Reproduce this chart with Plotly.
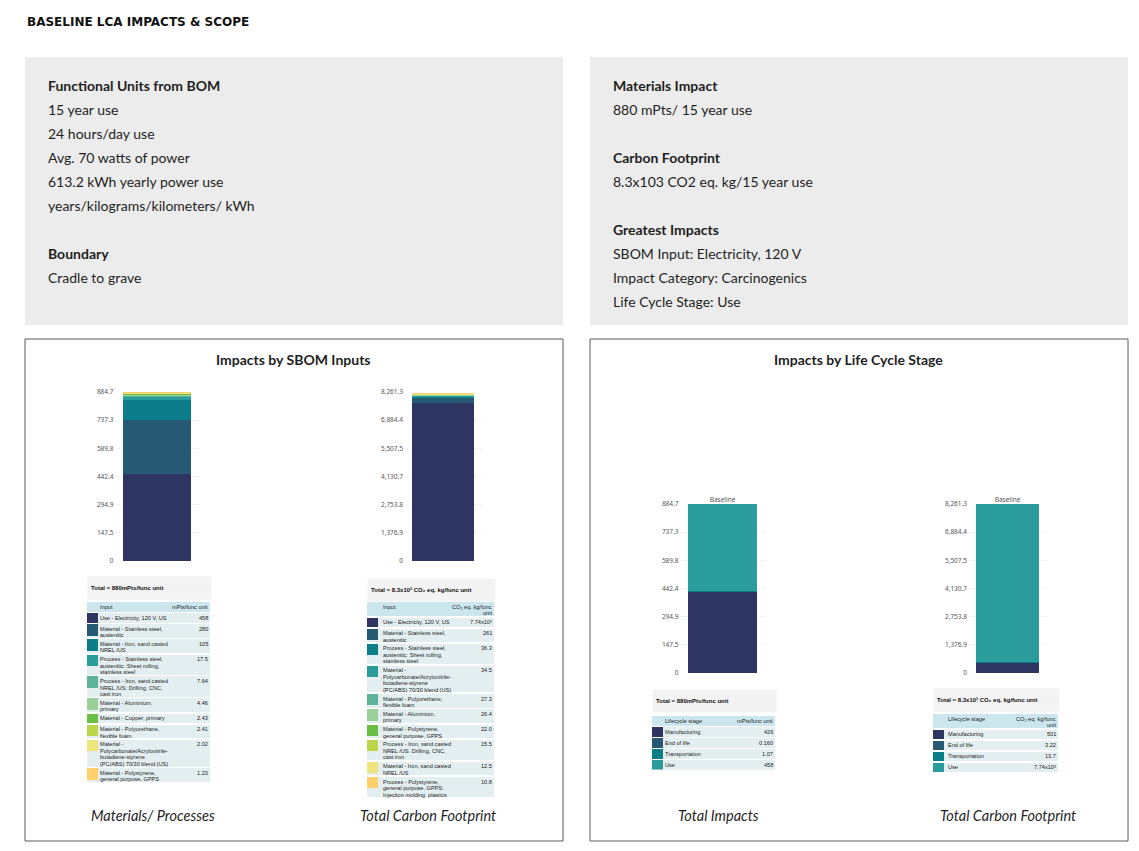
import plotly.graph_objects as go

W, H = 1139, 851


def fx(p):
    return p / W


def fy(p):
    return 1 - p / H


# ---------------- data ----------------
sbom_inputs = [
    "Use - Electricity, 120 V, US",
    "Material - Stainless steel,<br>austenitic",
    "Material - Iron, sand casted<br>NREL /US",
    "Process - Stainless steel,<br>austenitic: Sheet rolling,<br>stainless steel",
    "Process - Iron, sand casted<br>NREL /US: Drilling, CNC,<br>cast iron",
    "Material - Aluminium,<br>primary",
    "Material - Copper, primary",
    "Material - Polyurethane,<br>flexible foam",
    "Material -<br>Polycarbonate/Acrylonitrile-<br>butadiene-styrene<br>(PC/ABS) 70/30 blend (US)",
    "Material - Polystyrene,<br>general purpose, GPPS",
]
sbom_values = [458, 280, 105, 17.5, 7.64, 4.46, 2.43, 2.41, 2.02, 1.23]
sbom_value_text = ["458", "280", "105", "17.5", "7.64", "4.46", "2.43", "2.41", "2.02", "1.23"]

carbon_inputs = [
    "Use - Electricity, 120 V, US",
    "Material - Stainless steel,<br>austenitic",
    "Process - Stainless steel,<br>austenitic: Sheet rolling,<br>stainless steel",
    "Material -<br>Polycarbonate/Acrylonitrile-<br>butadiene-styrene<br>(PC/ABS) 70/30 blend (US)",
    "Material - Polyurethane,<br>flexible foam",
    "Material - Aluminium,<br>primary",
    "Material - Polystyrene,<br>general purpose, GPPS",
    "Process - Iron, sand casted<br>NREL /US: Drilling, CNC,<br>cast iron",
    "Material - Iron, sand casted<br>NREL /US",
    "Process - Polystyrene,<br>general purpose, GPPS:<br>Injection molding, plastics",
]
carbon_values = [7740, 261, 36.3, 34.5, 27.3, 26.4, 22.0, 15.5, 12.5, 10.8]
carbon_value_text = ["7.74x10³", "261", "36.3", "34.5", "27.3", "26.4",
                     "22.0", "15.5", "12.5", "10.8"]

stages = ["Manufacturing", "End of life", "Transportation", "Use"]
stage_impacts = [426, 0.160, 1.07, 458]
stage_impact_text = ["426", "0.160", "1.07", "458"]
stage_carbon = [501, 3.22, 13.7, 7740]
stage_carbon_text = ["501", "3.22", "13.7", "7.74x10³"]

impact_tickvals = [0, 147.45, 294.9, 442.35, 589.8, 737.25, 884.7]
impact_ticktext = ["0", "147.5", "294.9", "442.4", "589.8", "737.3", "884.7"]
carbon_tickvals = [0, 1376.88, 2753.77, 4130.65, 5507.53, 6884.42, 8261.3]
carbon_ticktext = ["0", "1,376.9", "2,753.8", "4,130.7", "5,507.5", "6,884.4", "8,261.3"]

palette = ["#2e3562", "#265a72", "#0c7e8a", "#2a9c9b", "#5cb398",
           "#9bd09a", "#6abe44", "#bdd54b", "#efe57d", "#fdd06b"]

left_box_lines = ["<b>Functional Units from BOM</b>", "15 year use", "24 hours/day use",
                  "Avg. 70 watts of power", "613.2 kWh yearly power use",
                  "years/kilograms/kilometers/ kWh", "", "<b>Boundary</b>", "Cradle to grave"]
right_box_lines = ["<b>Materials Impact</b>", "880 mPts/ 15 year use", "",
                   "<b>Carbon Footprint</b>", "8.3x103 CO2 eq. kg/15 year use", "",
                   "<b>Greatest Impacts</b>", "SBOM Input: Electricity, 120 V",
                   "Impact Category: Carcinogenics", "Life Cycle Stage: Use"]

# ---------------- figure ----------------
fig = go.Figure()
shapes = []
annotations = []
layout_axes = {}

TXT = "#1f1f1f"
BODY_FONT = "Lato"

# page title
annotations.append(dict(text="<b>BASELINE LCA IMPACTS &amp; SCOPE</b>", x=fx(25), y=fy(22),
                        xref="paper", yref="paper", xanchor="left", yanchor="middle",
                        showarrow=False, font=dict(family="DejaVu Sans", size=12, color="#111")))

# grey info boxes
for x0, x1 in [(25, 563), (590, 1128)]:
    shapes.append(dict(type="rect", xref="paper", yref="paper", x0=fx(x0), x1=fx(x1),
                       y0=fy(57), y1=fy(325), fillcolor="#ebeceb", line=dict(width=0), layer="below"))
# bordered panels
for x0, x1 in [(25, 563), (590, 1128)]:
    shapes.append(dict(type="rect", xref="paper", yref="paper", x0=fx(x0), x1=fx(x1),
                       y0=fy(339), y1=fy(841), fillcolor="rgba(0,0,0,0)",
                       line=dict(width=1, color="#5a5a5a"), layer="below"))

for lines, x in [(left_box_lines, 46), (right_box_lines, 611)]:
    for i, t in enumerate(lines):
        if not t:
            continue
        annotations.append(dict(text=t, x=fx(x), y=fy(85 + 24 * i), xref="paper", yref="paper",
                                xanchor="left", yanchor="middle", showarrow=False,
                                font=dict(family=BODY_FONT, size=14, color=TXT)))

# panel titles & captions
for t, x in [("<b>Impacts by SBOM Inputs</b>", 294), ("<b>Impacts by Life Cycle Stage</b>", 858)]:
    annotations.append(dict(text=t, x=fx(x), y=fy(360), xref="paper", yref="paper",
                            xanchor="center", yanchor="middle", showarrow=False,
                            font=dict(family=BODY_FONT, size=14, color=TXT)))
for t, x in [("<i>Materials/ Processes</i>", 153), ("<i>Total Carbon Footprint</i>", 428),
             ("<i>Total Impacts</i>", 718), ("<i>Total Carbon Footprint</i>", 1008)]:
    annotations.append(dict(text=t, x=fx(x), y=fy(815), xref="paper", yref="paper",
                            xanchor="center", yanchor="middle", showarrow=False,
                            font=dict(family=BODY_FONT, size=14.5, color=TXT)))


def ax_names(i):
    return ("x" if i == 1 else f"x{i}"), ("y" if i == 1 else f"y{i}")


def ax_keys(i):
    return ("xaxis" if i == 1 else f"xaxis{i}"), ("yaxis" if i == 1 else f"yaxis{i}")


def add_stack(i, names, values, colors, tickvals, ticktext, px0, px1, py_top, py_bot, label, show_label):
    xa, ya = ax_names(i)
    for n, v, c in zip(names, values, colors):
        fig.add_trace(go.Bar(x=[label], y=[v], name=n.replace("<br>", " "), marker_color=c,
                             marker_line_width=0,
                             xaxis=xa, yaxis=ya, showlegend=False))
    xk, yk = ax_keys(i)
    layout_axes[xk] = dict(domain=[fx(px0), fx(px1)], anchor=ya, type="category",
                           showticklabels=show_label, side="top", showgrid=False, zeroline=False,
                           ticks="", showline=False, automargin=False,
                           tickfont=dict(family="Noto Sans", size=6.5, color="#555"))
    layout_axes[yk] = dict(domain=[fy(py_bot), fy(py_top)], anchor=xa, range=[0, tickvals[-1]],
                           tickvals=tickvals, ticktext=ticktext, showgrid=True, gridcolor="#f3f3f3",
                           gridwidth=1, zeroline=False, showline=False, ticks="", automargin=False,
                           tickfont=dict(family="Noto Sans", size=6.5, color="#555"))


TABLE_FONT = "Liberation Sans"
TFS = 5.6
LH = 6.5
MINH = 9.5
GAP = 1.5


def add_lines(text, x, top, xa, ya, anchor, font):
    for k, line in enumerate(text.split("<br>")):
        annotations.append(dict(text=line, x=x, y=top + 0.6 + k * LH, xref=xa, yref=ya,
                                xanchor=anchor, yanchor="top", showarrow=False, font=font,
                                borderpad=0, align=anchor))


def add_table(i, x0, y0, width, labels, values_text, colors, head_left, head_right, head_lines,
              total_text, total_y, text_dx, max_h=None):
    xa, ya = ax_names(i)
    heights = [max(MINH, head_lines * LH + 1)] + [max(MINH, (l.count("<br>") + 1) * LH + 0.8) for l in labels]
    tops = []
    y = 0
    for h in heights:
        tops.append(y)
        y += h + GAP
    total = y - GAP
    centers = [t + h / 2 for t, h in zip(tops, heights)]
    bg = ["#cce6ee"] + ["#e2eef0"] * len(labels)
    fig.add_trace(go.Bar(orientation="h", y=centers, x=[width] * len(heights), base=[0] * len(heights),
                         width=heights, marker_color=bg, marker_line_width=0, xaxis=xa, yaxis=ya,
                         showlegend=False, hoverinfo="skip"))
    sw_h = [min(h, 11.5) for h in heights[1:]]
    fig.add_trace(go.Bar(orientation="h", y=[t + s / 2 for t, s in zip(tops[1:], sw_h)],
                         x=[10.5] * len(labels), base=[0] * len(labels), width=sw_h,
                         marker_color=colors[:len(labels)], marker_line_width=0,
                         xaxis=xa, yaxis=ya, showlegend=False,
                         hovertext=[l.replace("<br>", " ") for l in labels], hoverinfo="text"))
    ann_font = dict(family=TABLE_FONT, size=TFS, color="#222")
    add_lines(head_left, text_dx, tops[0], xa, ya, "left", ann_font)
    add_lines(head_right, width - 1, tops[0], xa, ya, "right", ann_font)
    for lab, val, t in zip(labels, values_text, tops[1:]):
        add_lines(lab, text_dx, t, xa, ya, "left", ann_font)
        add_lines(val, width - 1.5, t, xa, ya, "right", ann_font)
    vis_total = total if max_h is None else min(total, max_h)
    xk, yk = ax_keys(i)
    layout_axes[xk] = dict(domain=[fx(x0), fx(x0 + width)], anchor=ya, range=[0, width], visible=False,
                           fixedrange=True, automargin=False)
    layout_axes[yk] = dict(domain=[fy(y0 + vis_total), fy(y0)], anchor=xa, range=[vis_total, 0],
                           visible=False, fixedrange=True, automargin=False)
    # total box
    annotations.append(dict(text=total_text, x=fx(x0), y=fy(total_y), xref="paper", yref="paper",
                            xanchor="left", yanchor="middle", showarrow=False, width=width - 6,
                            height=16, align="left", bgcolor="#f3f3f3", borderpad=3,
                            font=dict(family=TABLE_FONT, size=6, color="#111")))


add_stack(1, sbom_inputs, sbom_values, palette, impact_tickvals, impact_ticktext,
          114.5, 199.5, 392, 561, "SBOM", False)
add_stack(2, carbon_inputs, carbon_values, palette, carbon_tickvals, carbon_ticktext,
          404, 482, 392, 561, "SBOM", False)
add_stack(3, stages, stage_impacts, palette, impact_tickvals, impact_ticktext,
          679.5, 765.5, 504, 673, "Baseline", True)
add_stack(4, stages, stage_carbon, palette, carbon_tickvals, carbon_ticktext,
          968, 1047, 504, 673, "Baseline", True)

add_table(5, 87, 602, 123, sbom_inputs, sbom_value_text, palette, "Input", "mPts/func unit", 1,
          "<b>Total = 880mPts/func unit</b>", 588, 12)
add_table(6, 367, 602, 127, carbon_inputs, carbon_value_text, palette, "Input",
          "CO₂ eq. kg/func<br>unit", 2,
          "<b>Total = 8.3x10³ CO₂ eq. kg/func unit</b>", 590, 15, max_h=195)
add_table(7, 652, 716, 123, stages, stage_impact_text, palette, "Lifecycle stage", "mPts/func unit", 1,
          "<b>Total = 880mPts/func unit</b>", 701, 12)
add_table(8, 933, 714, 125, stages, stage_carbon_text, palette, "Lifecycle stage",
          "CO₂ eq. kg/func<br>unit", 2,
          "<b>Total = 8.3x10³ CO₂ eq. kg/func unit</b>", 700, 14)

fig.update_layout(
    width=W, height=H, margin=dict(l=0, r=0, t=0, b=0, pad=0, autoexpand=False),
    paper_bgcolor="white", plot_bgcolor="rgba(0,0,0,0)",
    barmode="stack", bargap=0.2, showlegend=False,
    shapes=shapes, annotations=annotations,
    font=dict(family=BODY_FONT, color=TXT),
    **layout_axes,
)

PAGE_FIX = (
    "var h=document.documentElement,b=document.body;"
    "h.style.margin='0';h.style.padding='0';h.style.overflow='hidden';"
    "b.style.margin='0';b.style.padding='0';b.style.overflow='hidden';"
    "var g=document.querySelector('.plotly-graph-div');"
    "if(g){g.style.position='absolute';g.style.left='0px';g.style.top='0px';}"
)

fig.write_html("out.html", config={"displayModeBar": False}, post_script=PAGE_FIX)
